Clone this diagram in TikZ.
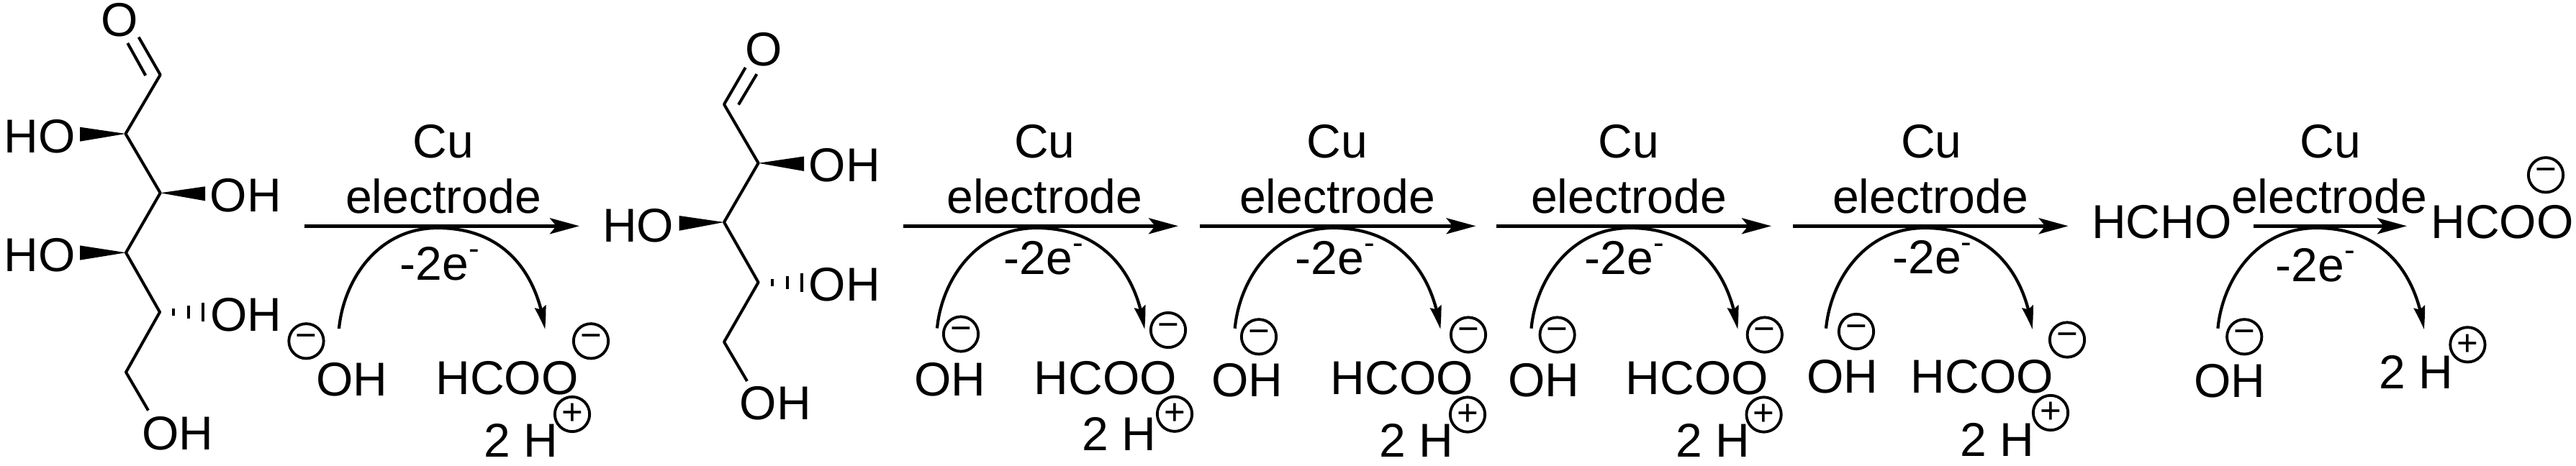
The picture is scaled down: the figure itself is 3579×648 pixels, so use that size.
\documentclass[tikz,border=0pt]{standalone}
\usepackage{fontspec}
\setmainfont{Liberation Sans}
\usetikzlibrary{arrows.meta,bending}
\newcommand{\etwo}{-2e\raisebox{16.5pt}{\fontsize{25}{27}\selectfont -}}
\tikzset{
  x=0.02cm,y=-0.02cm,
  lbl/.style={inner sep=0pt,outer sep=0pt,anchor=base,font=\fontsize{37.6}{40}\selectfont},
  charge/.style={circle,draw=black,line width=2.2pt,inner sep=0pt,outer sep=0pt,minimum size=27.5pt,align=center,font=\fontsize{29}{30}\selectfont},
  bond/.style={draw=black,line width=2.3pt,line cap=butt,line join=round},
  wedgefill/.style={fill=black,draw=none},
  main/.style={draw=black,line width=2.9pt,-{Stealth[length=23.3pt,width=12.5pt,inset=5pt]}},
  curved/.style={draw=black,line width=2.4pt,-{Stealth[length=18.4pt,width=9pt,inset=2.3pt,bend]}},
}
\begin{document}
\begin{tikzpicture}
\useasboundingbox (0,0) rectangle (3579,648);
% molecule 1
\node[lbl] (aO) at (166,50.5) {O};
\coordinate (a1) at (222.7,104);
\coordinate (a2) at (174.5,186);
\coordinate (a3) at (222.7,268.3);
\coordinate (a4) at (175,351.3);
\coordinate (a5) at (222,434);
\coordinate (a6) at (175,517.6);
\coordinate (aOe) at (192.7,51.7);
\coordinate (aIn1) at (202.3,105);
\coordinate (aIn2) at (177.3,60);
\coordinate (aEnd) at (206,570.7);
\draw[bond] (aOe) -- (a1) -- (a2) -- (a3) -- (a4) -- (a5) -- (a6) -- (aEnd);
\draw[bond] (aIn1) -- (aIn2);
\node[lbl] (aHO1) at (55,212.7) {HO};
\node[lbl] (aOH1) at (341.5,295) {OH};
\node[lbl] (aHO2) at (55,377.5) {HO};
\node[lbl] (aOH2) at (342,460) {OH};
\node[lbl] (aOH3) at (247,625) {OH};
\fill[wedgefill] (a2) -- (111,176.7) -- (111,196.7) -- cycle;
\fill[wedgefill] (a3) -- (285,259.3) -- (285,279.3) -- cycle;
\fill[wedgefill] (a4) -- (111,341.4) -- (111,361.7) -- cycle;
\draw[bond] (241,429) -- (241,439) (262,425) -- (262,443) (282,421) -- (282,447);
% step 1
\coordinate (s1a) at (423,314.3); \coordinate (s1b) at (805,314.3);
\draw[main] (s1a) -- (s1b);
\node[lbl] (s1cu) at (616,220) {Cu};
\node[lbl] (s1el) at (616,296.7) {electrode};
\node[lbl] (s1e) at (611,389.3) {\etwo};
\coordinate (s1s) at (471,457); \coordinate (s1t) at (608,317); \coordinate (s1f) at (757,458);
\draw[curved] (s1s) .. controls +(6,-65) and +(-85,0) .. (s1t) .. controls +(95,0) and +(-10,-75) .. (s1f);
\node[charge] (s1m1) at (425.5,474.3) {−};
\node[charge] (s1m2) at (821,474.3) {−};
\node[charge] (s1p) at (795,576) {+};
\node[lbl] (s1oh) at (489,550.7) {OH};
\node[lbl] (s1h) at (704.5,548.7) {HCOO};
\node[lbl] (s1h2) at (724,635.3) {2 H};
% molecule 2
\node[lbl] (bO) at (1061,92) {O};
\coordinate (b1) at (1006,145.1);
\coordinate (b2) at (1053.6,226.8);
\coordinate (b3) at (1006,309);
\coordinate (b4) at (1053.6,392.6);
\coordinate (b5) at (1006,475.5);
\coordinate (bOe) at (1035.7,94);
\coordinate (bIn1) at (1026,145.6);
\coordinate (bIn2) at (1051.4,103.1);
\coordinate (bEnd) at (1038,530);
\draw[bond] (bOe) -- (b1) -- (b2) -- (b3) -- (b4) -- (b5) -- (bEnd);
\draw[bond] (bIn1) -- (bIn2);
\node[lbl] (bOH1) at (1173.4,253) {OH};
\node[lbl] (bHO) at (886.7,336.2) {HO};
\node[lbl] (bOH2) at (1173.4,418.7) {OH};
\node[lbl] (bOH3) at (1077.5,583.8) {OH};
\fill[wedgefill] (b2) -- (1117,217.5) -- (1117,238) -- cycle;
\fill[wedgefill] (b3) -- (943.6,300) -- (943.6,320.8) -- cycle;
\draw[bond] (1073,387.6) -- (1073,397.6) (1093.7,383.6) -- (1093.7,401.6) (1114,379.6) -- (1114,405.6);
% step 2
\coordinate (s2a) at (1255,314.3); \coordinate (s2b) at (1637,314.3);
\draw[main] (s2a) -- (s2b);
\node[lbl] (s2cu) at (1451.4,220) {Cu};
\node[lbl] (s2el) at (1451.4,296.7) {electrode};
\node[lbl] (s2e) at (1450,381.8) {\etwo};
\coordinate (s2s) at (1302,456.5); \coordinate (s2t) at (1440,317); \coordinate (s2f) at (1590,458);
\draw[curved] (s2s) .. controls +(6,-65) and +(-85,0) .. (s2t) .. controls +(95,0) and +(-10,-75) .. (s2f);
\node[charge] (s2m1) at (1335,464.5) {−};
\node[charge] (s2m2) at (1623,459) {−};
\node[charge] (s2p) at (1632,575.7) {+};
\node[lbl] (s2oh) at (1320,550.7) {OH};
\node[lbl] (s2h) at (1536,548.7) {HCOO};
\node[lbl] (s2h2) at (1555,626.2) {2 H};
% step 3
\coordinate (s3a) at (1667,314.3); \coordinate (s3b) at (2050.5,314.3);
\draw[main] (s3a) -- (s3b);
\node[lbl] (s3cu) at (1858,220) {Cu};
\node[lbl] (s3el) at (1858,296.7) {electrode};
\node[lbl] (s3e) at (1855,381.7) {\etwo};
\coordinate (s3s) at (1715.7,456.7); \coordinate (s3t) at (1852.2,317); \coordinate (s3f) at (2001,458);
\draw[curved] (s3s) .. controls +(6,-65) and +(-85,0) .. (s3t) .. controls +(95,0) and +(-10,-75) .. (s3f);
\node[charge] (s3m1) at (1749,468.3) {−};
\node[charge] (s3m2) at (2040,465.5) {−};
\node[charge] (s3p) at (2039,576.5) {+};
\node[lbl] (s3oh) at (1733,551) {OH};
\node[lbl] (s3h) at (1948,548.7) {HCOO};
\node[lbl] (s3h2) at (1968,635.5) {2 H};
% step 4
\coordinate (s4a) at (2079,314.3); \coordinate (s4b) at (2461,314.3);
\draw[main] (s4a) -- (s4b);
\node[lbl] (s4cu) at (2263,220) {Cu};
\node[lbl] (s4el) at (2263,296.7) {electrode};
\node[lbl] (s4e) at (2256.6,381.7) {\etwo};
\coordinate (s4s) at (2127.5,456.7); \coordinate (s4t) at (2264.7,317); \coordinate (s4f) at (2414,458);
\draw[curved] (s4s) .. controls +(6,-65) and +(-85,0) .. (s4t) .. controls +(95,0) and +(-10,-75) .. (s4f);
\node[charge] (s4m1) at (2163.6,465.5) {−};
\node[charge] (s4m2) at (2451.8,465.5) {−};
\node[charge] (s4p) at (2450.6,576.5) {+};
\node[lbl] (s4oh) at (2144.7,551) {OH};
\node[lbl] (s4h) at (2358,548.7) {HCOO};
\node[lbl] (s4h2) at (2380,635.5) {2 H};
% step 5
\coordinate (s5a) at (2491.4,314.3); \coordinate (s5b) at (2873.6,314.3);
\draw[main] (s5a) -- (s5b);
\node[lbl] (s5cu) at (2683.3,220) {Cu};
\node[lbl] (s5el) at (2682,296.7) {electrode};
\node[lbl] (s5e) at (2684.3,380) {\etwo};
\coordinate (s5s) at (2537,456.7); \coordinate (s5t) at (2674,317); \coordinate (s5f) at (2823.4,458);
\draw[curved] (s5s) .. controls +(6,-65) and +(-85,0) .. (s5t) .. controls +(95,0) and +(-10,-75) .. (s5f);
\node[charge] (s5m1) at (2579,461) {−};
\node[charge] (s5m2) at (2872,472.5) {−};
\node[charge] (s5p) at (2849,574) {+};
\node[lbl] (s5oh) at (2560,546.5) {OH};
\node[lbl] (s5h) at (2754,546) {HCOO};
\node[lbl] (s5h2) at (2775,634) {2 H};
% step 6
\node[lbl] (hcho) at (3003.5,331.5) {HCHO};
\coordinate (s6a) at (3131,314.3); \coordinate (s6b) at (3344,314.3);
\draw[main] (s6a) -- (s6b);
\node[lbl] (s6cu) at (3237.5,220) {Cu};
\node[lbl] (s6el) at (3236,296.7) {electrode};
\node[lbl] (s6e) at (3217,391.7) {\etwo};
\coordinate (s6s) at (3081.4,456.7); \coordinate (s6t) at (3218.4,317); \coordinate (s6f) at (3367.6,458.3);
\draw[curved] (s6s) .. controls +(6,-65) and +(-85,0) .. (s6t) .. controls +(95,0) and +(-10,-75) .. (s6f);
\node[charge] (s6m1) at (3118.2,468.3) {−};
\node[charge] (s6m2) at (3537,243.3) {−};
\node[charge] (s6p) at (3428.4,479.3) {+};
\node[lbl] (s6oh) at (3098.1,552) {OH};
\node[lbl] (s6h) at (3476.5,331.5) {HCOO};
\node[lbl] (s6h2) at (3356.8,540) {2 H};
\end{tikzpicture}
\end{document}
